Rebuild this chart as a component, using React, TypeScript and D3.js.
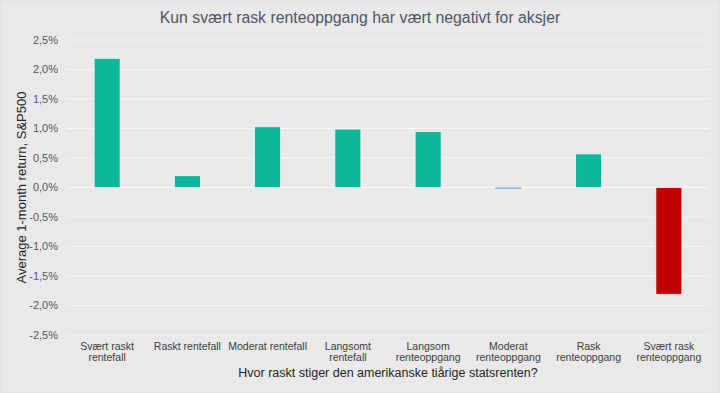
import React, { useEffect, useRef } from 'react'
import * as d3 from 'd3'

// data
const categories = [
  'Svært raskt\nrentefall',
  'Raskt rentefall',
  'Moderat rentefall',
  'Langsomt\nrentefall',
  'Langsom\nrenteoppgang',
  'Moderat\nrenteoppgang',
  'Rask\nrenteoppgang',
  'Svært rask\nrenteoppgang',
]
const returns = [2.19, 0.2, 1.03, 0.99, 0.95, -0.02, 0.57, -1.81]
const yTicks = [2.5, 2.0, 1.5, 1.0, 0.5, 0, -0.5, -1.0, -1.5, -2.0, -2.5]

const barColors = ['#0bb89b', '#0bb89b', '#0bb89b', '#0bb89b', '#0bb89b', '#6fa8dc', '#0bb89b', '#c00000']

const TITLE = 'Kun svært rask renteoppgang har vært negativt for aksjer'
const Y_TITLE = 'Average 1-month return, S&P500'
const X_TITLE = 'Hvor raskt stiger den amerikanske tiårige statsrenten?'

const W = 720
const H = 393
const FONT = '"Liberation Sans", Arial, sans-serif'

const App: React.FC = () => {
  const svgRef = useRef<SVGSVGElement>(null)

  useEffect(() => {
    if (!svgRef.current) return
    const svg = d3.select(svgRef.current)
    svg.selectAll('*').remove()

    svg.append('rect')
      .attr('width', W).attr('height', H)
      .attr('fill', '#e8e9e8')
      .attr('stroke', '#dcdedc')

    const x = d3.scaleBand<string>()
      .domain(categories)
      .range([67, 709])
      .paddingInner(0.676)
      .paddingOuter(0.338)

    const y = d3.scaleLinear().domain([-2.5, 2.5]).range([335, 40])

    // gridlines
    svg.append('g')
      .selectAll('line')
      .data(yTicks)
      .join('line')
      .attr('x1', 67).attr('x2', 709)
      .attr('y1', (d) => y(d)).attr('y2', (d) => y(d))
      .attr('stroke', '#f6f6f6')
      .attr('stroke-width', 1.2)

    // y tick labels
    svg.append('g')
      .selectAll('text')
      .data(yTicks)
      .join('text')
      .attr('x', 58)
      .attr('y', (d) => y(d))
      .attr('dy', '0.35em')
      .attr('text-anchor', 'end')
      .attr('font-family', FONT)
      .attr('font-size', 11)
      .attr('fill', '#595959')
      .text((d) => d3.format('.1f')(d).replace('.', ',').replace('−', '-') + '%')

    // bars
    svg.append('g')
      .selectAll('rect')
      .data(returns)
      .join('rect')
      .attr('x', (_, i) => x(categories[i]) || 0)
      .attr('width', x.bandwidth())
      .attr('y', (d) => y(Math.max(0, d)))
      .attr('height', (d) => Math.max(1.2, Math.abs(y(d) - y(0))))
      .attr('fill', (_, i) => barColors[i])
      .attr('stroke', (d) => (Math.abs(d) < 0.05 ? 'none' : '#f4f4f4'))
      .attr('stroke-width', 0.8)

    // x labels
    const xl = svg.append('g')
      .selectAll('text')
      .data(categories)
      .join('text')
      .attr('x', (d) => (x(d) || 0) + x.bandwidth() / 2)
      .attr('y', 350)
      .attr('text-anchor', 'middle')
      .attr('font-family', FONT)
      .attr('font-size', 10.5)
      .attr('fill', '#404040')
    xl.each(function (d) {
      const t = d3.select(this)
      d.split('\n').forEach((line, i) => {
        t.append('tspan')
          .attr('x', t.attr('x'))
          .attr('dy', i === 0 ? 0 : 11)
          .text(line)
      })
    })

    // titles
    svg.append('text')
      .attr('x', 360).attr('y', 23)
      .attr('text-anchor', 'middle')
      .attr('font-family', FONT)
      .attr('font-size', 15.8)
      .attr('fill', '#4d5767')
      .text(TITLE)

    svg.append('text')
      .attr('x', 388).attr('y', 377)
      .attr('text-anchor', 'middle')
      .attr('font-family', FONT)
      .attr('font-size', 12.5)
      .attr('fill', '#262626')
      .text(X_TITLE)

    svg.append('text')
      .attr('transform', `translate(26,${y(0)}) rotate(-90)`)
      .attr('text-anchor', 'middle')
      .attr('font-family', FONT)
      .attr('font-size', 13)
      .attr('fill', '#262626')
      .text(Y_TITLE)
  }, [])

  return (
    <div style={{ position: 'fixed', left: 0, top: 0 }}>
      <svg ref={svgRef} width={W} height={H} style={{ display: 'block' }} />
    </div>
  )
}

export default App
